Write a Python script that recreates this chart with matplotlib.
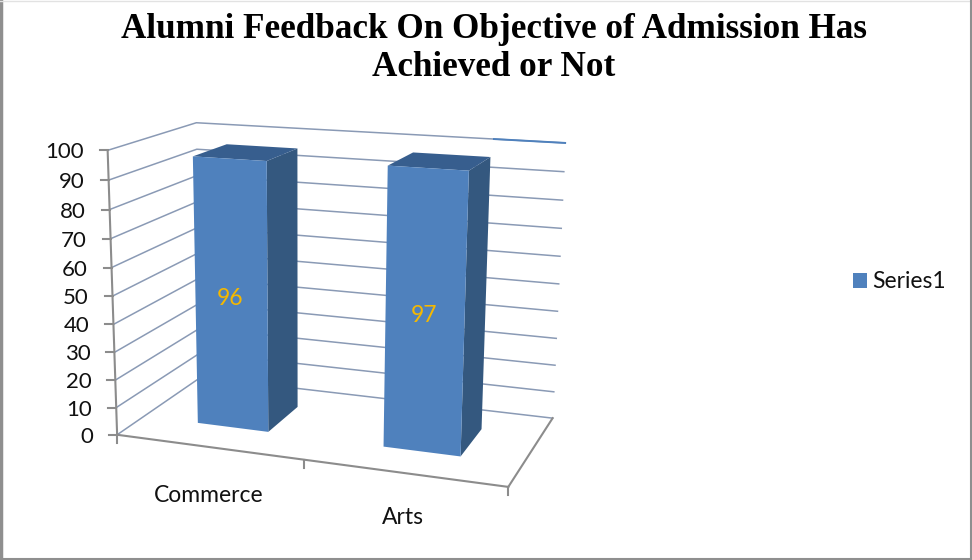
import numpy as np
import matplotlib
matplotlib.use("Agg")
import matplotlib.pyplot as plt
from matplotlib.patches import Polygon, Patch

categories = ["Commerce", "Arts"]
values = [96, 97]
value_ticks = [0, 10, 20, 30, 40, 50, 60, 70, 80, 90, 100]
series_name = "Series1"
title_lines = ["Alumni Feedback On Objective of Admission Has", "Achieved or Not"]

W, H = 972, 560
fig = plt.figure(figsize=(W / 100, H / 100), dpi=100)
ax = fig.add_axes([0, 0, 1, 1])
ax.set_xlim(0, W)
ax.set_ylim(H, 0)
ax.axis("off")

# camera calibration: box corners (category, value, depth) -> picture position
box = [((0, 0, 0), (118, 435)), ((0, 100, 0), (107, 150)), ((0, 100, 1), (197, 123)),
       ((0, 0, 1), (200, 377)), ((2, 100, 1), (565, 143)), ((2, 0, 1), (553, 418)),
       ((2, 0, 0), (508, 487))]
rows = []
for (x, y, z), (u, v) in box:
    p = [x, y / 100, z, 1]
    rows.append(p + [0, 0, 0, 0] + [-u * c for c in p])
    rows.append([0, 0, 0, 0] + p + [-v * c for c in p])
_, _, vt = np.linalg.svd(np.array(rows, float))
P = vt[-1].reshape(3, 4)


def proj(x, y, z):
    h = P @ np.array([x, y / 100, z, 1.0])
    return h[0] / h[2], h[1] / h[2]


GRID = "#8a9ab5"
AXIS = "#8c8c8c"
FRONT, SIDE, TOP = "#4f81bd", "#34587f", "#375e8e"
FONT = "Lato"
INK = "#111111"

for t in value_ticks:
    a, b, c = proj(0, t, 0), proj(0, t, 1), proj(2, t, 1)
    ax.plot([a[0], b[0], c[0]], [a[1], b[1], c[1]], color=GRID, lw=1.1, zorder=1)
    ax.plot([a[0] - 8, a[0]], [a[1], a[1]], color=AXIS, lw=1.5, zorder=2)
    ax.text(a[0] - 24, a[1] + 2, str(t), ha="right", va="center", family=FONT, fontsize=16, color=INK)

# brighter stretch of the top back gridline
seg = np.array([proj(1.64, value_ticks[-1], 1), proj(2, value_ticks[-1], 1)])
ax.plot(seg[:, 0], seg[:, 1], color="#4f81bd", lw=1.4, zorder=1.5)

for pts in ([(0, 0, 0), (0, 100, 0)], [(0, 0, 0), (2, 0, 0)], [(2, 0, 0), (2, 0, 1)]):
    xy = np.array([proj(*q) for q in pts])
    ax.plot(xy[:, 0], xy[:, 1], color=AXIS, lw=1.5, zorder=2)
for i in range(3):
    u, v = proj(i, 0, 0)
    ax.plot([u, u], [v, v + 8], color=AXIS, lw=1.5, zorder=2)

X0, X1, Z0, Z1 = 0.305, 0.695, 0.30, 0.71
for i, val in enumerate(values):
    l, r = i + X0, i + X1
    c = proj
    ax.add_patch(Polygon([c(r, 0, Z0), c(r, 0, Z1), c(r, val, Z1), c(r, val, Z0)], fc=SIDE, ec="none", zorder=3))
    ax.add_patch(Polygon([c(l, val, Z0), c(r, val, Z0), c(r, val, Z1), c(l, val, Z1)], fc=TOP, ec="none", zorder=3))
    ax.add_patch(Polygon([c(l, 0, Z0), c(r, 0, Z0), c(r, val, Z0), c(l, val, Z0)], fc=FRONT, ec="none", zorder=4))
    u, v = proj((l + r) / 2, val / 2, Z0)
    ax.text(u - 1, v + 2, str(val), ha="center", va="center", family=FONT, fontsize=16.5, color="#f5b800", zorder=5)

for name, (u, v) in zip(categories, [(209, 496), (403, 518)]):
    ax.text(u, v, name, ha="center", va="center", family=FONT, fontsize=16.5, color=INK)

for line, v in zip(title_lines, [29, 68]):
    ax.text(494, v, line, ha="center", va="center", family="Liberation Serif", weight="bold",
            fontsize=25.3, color="#000000")

ax.legend(handles=[Patch(fc=FRONT, label=series_name)], loc="center left",
          bbox_to_anchor=(853 / W, 1 - 282 / H), bbox_transform=fig.transFigure, frameon=False,
          prop={"family": FONT, "size": 16.5}, borderpad=0, borderaxespad=0,
          handlelength=0.62, handleheight=0.62, handletextpad=0.2, labelcolor=INK)

ax.plot([1, 1], [0, H], color="#8f8f8f", lw=2.5, zorder=6)
ax.plot([0, W], [0.5, 0.5], color="#e2e2e2", lw=1, zorder=6)
ax.plot([970.5, 970.5], [0, H], color="#8f8f8f", lw=1.5, zorder=6)
ax.plot([0, W], [559, 559], color="#8f8f8f", lw=1.5, zorder=6)

fig.savefig("out.png", dpi=100)
